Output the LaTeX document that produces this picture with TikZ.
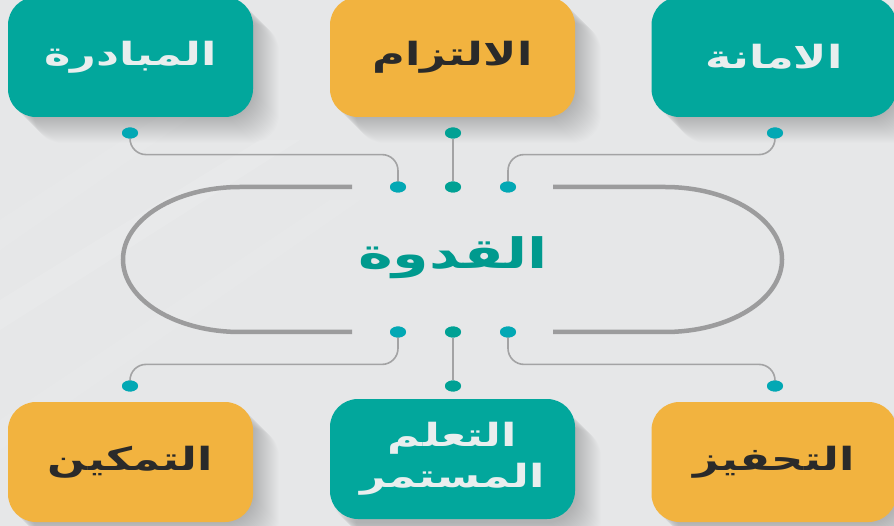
\documentclass[tikz,border=0pt]{standalone}
\usepackage{fontspec}
\usetikzlibrary{shapes.geometric,calc}
\TeXXeTstate=1
\newfontfamily\arabicfont[Script=Arabic,FakeStretch=1.4]{DejaVu Sans}
\definecolor{bgc}{HTML}{E6E7E8}
\definecolor{tealbox}{HTML}{02A79C}
\definecolor{yelbox}{HTML}{F2B33F}
\definecolor{lighttxt}{HTML}{E9EEEE}
\definecolor{darktxt}{HTML}{2A2A2A}
\definecolor{centertxt}{HTML}{009A8E}
\definecolor{dotcyan}{HTML}{02A8B4}
\definecolor{dotgreen}{HTML}{00A194}
\definecolor{linegray}{HTML}{9C9C9D}
\definecolor{conngray}{HTML}{A3A3A4}
\tikzset{
  boxbase/.style={rounded corners=28pt, minimum width=245pt, minimum height=120pt, inner sep=0pt, align=center},
  tealstyle/.style={boxbase, fill=tealbox, text=lighttxt, font=\arabicfont\bfseries\fontsize{32}{44}\selectfont},
  yelstyle/.style={boxbase, fill=yelbox, text=darktxt, font=\arabicfont\bfseries\fontsize{32}{44}\selectfont},
  dotc/.style={ellipse, fill=dotcyan, minimum width=16pt, minimum height=11pt, inner sep=0pt},
  dotg/.style={ellipse, fill=dotgreen, minimum width=16pt, minimum height=11pt, inner sep=0pt},
  conn/.style={draw=conngray, line width=1.6pt, rounded corners=16pt},
  capsule/.style={draw=linegray, line width=4.5pt}
}
\begin{document}
\begin{tikzpicture}[x=1pt,y=-1pt]
\useasboundingbox (0,0) rectangle (894,526);
\clip (0,0) rectangle (894,526);
\fill[bgc] (0,0) rectangle (894,526);
% faint background streaks
\fill[white,opacity=0.10] (0,300) -- (260,140) -- (300,140) -- (0,330) -- cycle;
\fill[white,opacity=0.07] (0,220) -- (200,90) -- (230,90) -- (0,250) -- cycle;
\fill[white,opacity=0.07] (0,420) -- (330,200) -- (360,200) -- (0,450) -- cycle;
% shadows
\foreach \cx/\cy in {130.5/57, 452.5/57, 774/57, 130.5/462, 452.5/462, 774/462}{
  \foreach \i in {1,...,26}{
    \fill[black,opacity=0.009,rounded corners=28pt]
      ($(\cx,\cy)+(-122.5+\i,-60+\i)$) rectangle ($(\cx,\cy)+(122.5+\i,60+\i)$);
  }
}
% boxes
\node[tealstyle] (b1) at (130.5,57) {\beginR المبادرة\endR};
\node[yelstyle]  (b2) at (452.5,57) {\beginR الالتزام\endR};
\node[tealstyle] (b3) at (774,57)   {\beginR الامانة\endR};
\node[yelstyle]  (b4) at (130.5,462) {\beginR التمكين\endR};
\node[tealstyle, font=\arabicfont\bfseries\fontsize{32}{41}\selectfont] (b5) at (452.5,459) {\beginR التعلم\endR\\\beginR المستمر\endR};
\node[yelstyle]  (b6) at (774,462) {\beginR التحفيز\endR};
% capsule
\draw[capsule] (352,187) -- (240,187) arc[start angle=-90, end angle=-270, x radius=117, y radius=72.5] -- (352,332);
\draw[capsule] (553,187) -- (665,187) arc[start angle=-90, end angle=90, x radius=117, y radius=72.5] -- (553,332);
\node[text=centertxt, font=\arabicfont\bfseries\fontsize{42}{50}\selectfont] (center) at (453,258) {\beginR القدوة\endR};
% dots
\node[dotc] (u1) at (130,133) {};
\node[dotg] (u2) at (453,133) {};
\node[dotc] (u3) at (775,133) {};
\node[dotc] (t1) at (398,187) {};
\node[dotg] (t2) at (453,187) {};
\node[dotc] (t3) at (508,187) {};
\node[dotc] (s1) at (398,332) {};
\node[dotg] (s2) at (453,332) {};
\node[dotc] (s3) at (508,332) {};
\node[dotc] (l1) at (130,386) {};
\node[dotg] (l2) at (453,386) {};
\node[dotc] (l3) at (775,386) {};
% connectors
\draw[conn] (u1.center) |- ($(u1)!0.4!(t1)$) -| (t1.center);
\draw[conn] (u2.south) -- (t2.north);
\draw[conn] (u3.center) |- ($(u3)!0.4!(t3)$) -| (t3.center);
\draw[conn] (s1.center) |- ($(s1)!0.6!(l1)$) -| (l1.center);
\draw[conn] (s2.south) -- (l2.north);
\draw[conn] (s3.center) |- ($(s3)!0.6!(l3)$) -| (l3.center);
% redraw dots on top
\foreach \n in {u1,u3,t1,t3,s1,s3,l1,l3}{\fill[dotcyan] (\n) ellipse[x radius=8pt, y radius=5.5pt];}
\foreach \n in {u2,t2,s2,l2}{\fill[dotgreen] (\n) ellipse[x radius=8pt, y radius=5.5pt];}
\end{tikzpicture}
\end{document}
